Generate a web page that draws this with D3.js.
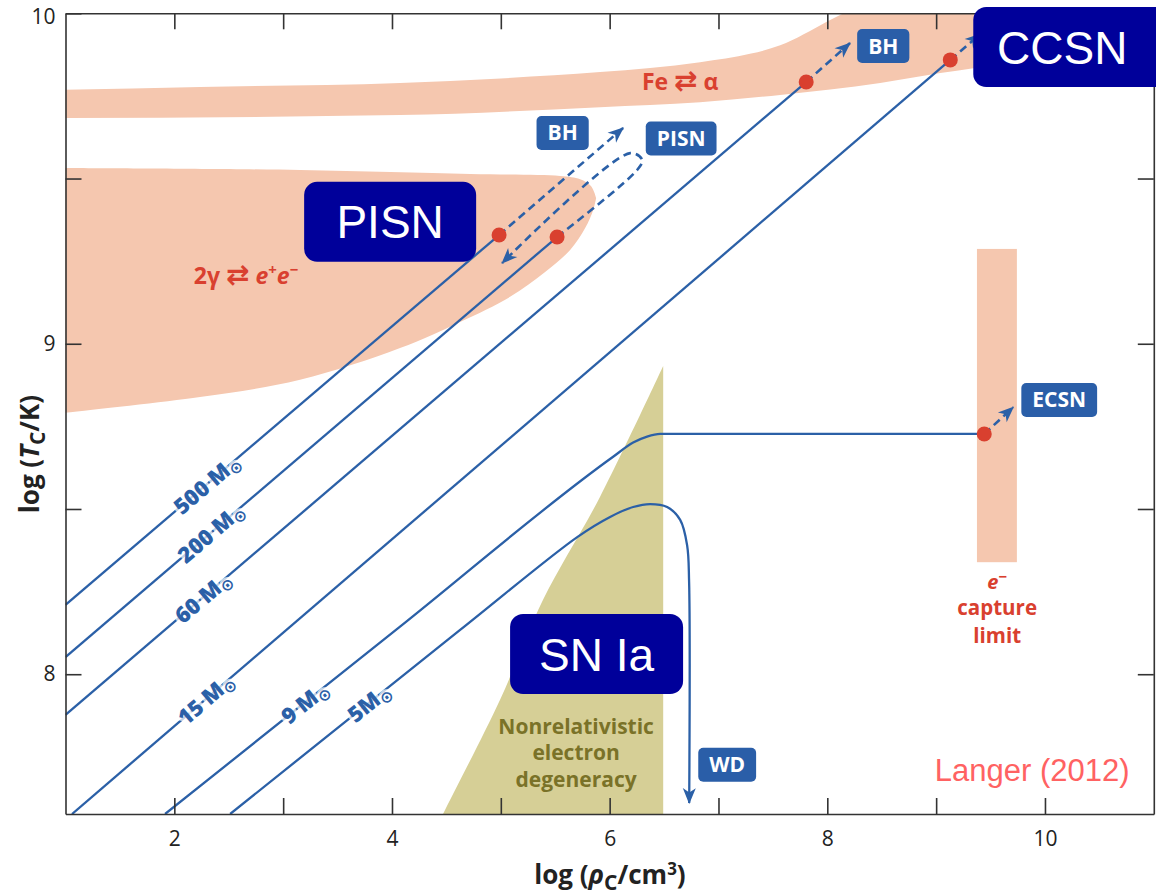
<!DOCTYPE html>
<html>
<head>
<meta charset="utf-8">
<script src="https://cdn.jsdelivr.net/npm/d3@7"></script>
<style>
  body { margin: 0; background: #fff; }
  svg { display: block; }
</style>
</head>
<body>
<svg id="chart" width="1156" height="896"></svg>
<script>
// ---- axes ----
const xDomain = [1, 11];
const yDomain = [7.577, 10];
const xTicks = [2, 3, 4, 5, 6, 7, 8, 9, 10];
const xTickLabels = [2, 4, 6, 8, 10];
const yTicks = [8, 8.5, 9, 9.5, 10];
const yTickLabels = [8, 9, 10];

// ---- shaded regions: [log rho_c, log T_c] ----
const feBandTop = [[0.9, 9.768], [2.236, 9.777], [4.074, 9.789], [5.0, 9.803], [5.912, 9.822], [6.831, 9.852], [7.3, 9.878], [7.567, 9.903], [7.999, 9.975], [8.25, 10.02], [8.8, 10.2]];
const feBandBottom = [[0.9, 9.683], [4.074, 9.692], [5.912, 9.716], [6.831, 9.731], [7.567, 9.753], [8.486, 9.789], [9.038, 9.819], [9.341, 9.834], [10.0, 9.86], [11.2, 9.93]];
const pairBandTop = [[0.9, 9.532], [3.155, 9.526], [4.718, 9.514], [5.545, 9.508], [5.729, 9.498], [5.830, 9.477], [5.876, 9.441]];
const pairBandBottom = [[0.9, 8.788], [2.236, 8.839], [3.155, 8.891], [4.074, 8.987], [4.625, 9.066], [5.085, 9.142], [5.407, 9.217], [5.637, 9.284], [5.775, 9.350], [5.849, 9.405], [5.876, 9.441]];
const captureLimitRho = [9.375, 9.742];
const captureLimitT = [8.339, 9.287];
const degeneracyEdge = [[6.492, 8.933], [5.912, 8.537], [5.388, 8.225], [4.993, 7.923], [4.469, 7.577], [4.40, 7.53]];
const degeneracyRho = 6.492;

// ---- evolutionary tracks of the stellar centre ----
const track500 = [[1.0, 8.210], [4.984, 9.329]];
const track200 = [[1.0, 8.052], [5.517, 9.323]];
const track60 = [[1.0, 7.877], [7.806, 9.792]];
const track15 = [[1.06, 7.577], [9.130, 9.859]];
const track9 = [[1.915, 7.577], [4.074, 8.144], [6.032, 8.658], [6.216, 8.701], [6.344, 8.719], [6.464, 8.727], [7.5, 8.727], [9.442, 8.727]];
const track5 = [[2.513, 7.577], [4.626, 8.134], [5.702, 8.415], [6.004, 8.476], [6.216, 8.506], [6.372, 8.515], [6.528, 8.506], [6.648, 8.467], [6.712, 8.39], [6.730, 8.28], [6.731, 7.61]];

const trackMasses = ["500", "200", "60", "15", "9", "5"];
const trackLabelRho = [2.30, 2.337, 2.264, 2.29, 3.20, 3.79];
const tracks = [track500, track200, track60, track15, track9, track5];

// ---- end points and fates ----
const endPoints = [[4.984, 9.329], [5.517, 9.323], [7.806, 9.792], [9.130, 9.859], [9.442, 8.727]];
const pathBH1 = [[4.984, 9.329], [6.124, 9.653]];
const pathPISN = [[5.517, 9.323], [6.253, 9.526], [6.299, 9.556], [6.189, 9.577], [5.012, 9.244]];
const pathBH2 = [[7.806, 9.792], [8.209, 9.910]];
const pathCCSN = [[9.130, 9.859], [9.405, 9.937]];
const pathECSN = [[9.442, 8.727], [9.709, 8.808]];
const dashedPaths = [pathBH1, pathPISN, pathBH2, pathCCSN, pathECSN];

const fateNames = ["BH", "PISN", "BH", "ECSN", "WD"];
const fateRho = [5.568, 6.657, 8.514, 10.131, 7.080];
const fateT = [9.638, 9.621, 9.901, 8.830, 7.726];

const snNames = ["PISN", "CCSN", "SN Ia"];
const snRho = [3.983, 10.159, 5.880];
const snT = [9.369, 9.898, 8.061];
const snBoxWidth = [172, 178, 173];
const snBoxExtraRight = [0, 30, 0];

// ---- colours ----
const blue = "#2b60a7";
const red = "#d9402f";
const pink = "#f5c7af";
const olive = "#d6cf96";
const oliveText = "#7a7228";
const navy = "#00009a";
const axisColor = "#333";
const sansBold = "'Open Sans', 'Noto Sans', sans-serif";
const arial = "'Liberation Sans', Arial, sans-serif";

const svg = d3.select("#chart");
const x = d3.scaleLinear().domain(xDomain).range([65.5, 1153.8]);
const y = d3.scaleLinear().domain(yDomain).range([814, 13.3]);
const [x0, x1] = x.range();
const [yb, yt] = y.range();

const defs = svg.append("defs");
defs.append("clipPath").attr("id", "plot-clip")
  .append("rect").attr("x", x0).attr("y", yt).attr("width", x1 - x0).attr("height", yb - yt);
defs.append("marker")
  .attr("id", "arrow").attr("viewBox", "-17 -8 18 16")
  .attr("refX", 0).attr("refY", 0)
  .attr("markerWidth", 18).attr("markerHeight", 16)
  .attr("markerUnits", "userSpaceOnUse").attr("orient", "auto")
  .append("path").attr("d", "M1,0 L-15,-6.5 L-10.5,0 L-15,6.5 Z").attr("fill", blue);

const smooth = d3.line().x(d => x(d[0])).y(d => y(d[1])).curve(d3.curveCatmullRom.alpha(0.5));
const mono = d3.line().x(d => x(d[0])).y(d => y(d[1])).curve(d3.curveMonotoneX);

const plot = svg.append("g").attr("clip-path", "url(#plot-clip)");

// shaded regions
plot.append("path")
  .attr("d", mono(feBandTop) + "L" + mono(feBandBottom.slice().reverse()).slice(1) + "Z")
  .attr("fill", pink);
plot.append("path")
  .attr("d", smooth(pairBandTop) + "L" + smooth(pairBandBottom.slice().reverse()).slice(1) + "Z")
  .attr("fill", pink);
plot.append("rect")
  .attr("x", x(captureLimitRho[0])).attr("width", x(captureLimitRho[1]) - x(captureLimitRho[0]))
  .attr("y", y(captureLimitT[1])).attr("height", y(captureLimitT[0]) - y(captureLimitT[1]))
  .attr("fill", pink);
plot.append("path")
  .attr("d", smooth(degeneracyEdge) + "L" + x(degeneracyRho) + "," + y(7.53) + "Z")
  .attr("fill", olive);

// axes with inward ticks on all four sides
function styleAxis(g) {
  g.select(".domain").attr("stroke", axisColor).attr("stroke-width", 1.6);
  g.selectAll(".tick line").attr("stroke", axisColor).attr("stroke-width", 1.6);
  g.selectAll(".tick text").attr("fill", "#222").attr("font-family", sansBold).attr("font-size", 21);
}
svg.append("g").attr("transform", `translate(0,${yb})`)
  .call(d3.axisBottom(x).tickValues(xTicks).tickSizeInner(-16).tickSizeOuter(0).tickPadding(17)
    .tickFormat(d => xTickLabels.includes(d) ? d : ""))
  .call(styleAxis);
svg.append("g").attr("transform", `translate(0,${yt})`)
  .call(d3.axisTop(x).tickValues(xTicks).tickSizeInner(-16).tickSizeOuter(0).tickFormat(""))
  .call(styleAxis);
const yAxisG = svg.append("g").attr("transform", `translate(${x0},0)`)
  .call(d3.axisLeft(y).tickValues(yTicks).tickSizeInner(-16).tickSizeOuter(0).tickPadding(10)
    .tickFormat(d => yTickLabels.includes(d) ? d : ""))
  .call(styleAxis);
// keep the top label inside the canvas
yAxisG.selectAll(".tick text").filter(d => d === yDomain[1]).attr("dy", "0.5em");
svg.append("g").attr("transform", `translate(${x1},0)`)
  .call(d3.axisRight(y).tickValues(yTicks).tickSizeInner(-16).tickSizeOuter(0).tickFormat(""))
  .call(styleAxis);

// axis titles
const xTitle = svg.append("text")
  .attr("x", 610).attr("y", 884).attr("text-anchor", "middle")
  .attr("font-family", sansBold).attr("font-weight", 700).attr("font-size", 26).attr("fill", "#222");
xTitle.append("tspan").text("log (");
xTitle.append("tspan").attr("font-style", "italic").text("ρ");
xTitle.append("tspan").attr("dy", 6).attr("font-size", 21).text("C");
xTitle.append("tspan").attr("dy", -6).text("/cm");
xTitle.append("tspan").attr("dy", -9).attr("font-size", 17).text("3");
xTitle.append("tspan").attr("dy", 9).text(")");

const yTitle = svg.append("text")
  .attr("transform", "translate(39,454) rotate(-90)").attr("text-anchor", "middle")
  .attr("font-family", sansBold).attr("font-weight", 700).attr("font-size", 26).attr("fill", "#222");
yTitle.append("tspan").text("log (");
yTitle.append("tspan").attr("font-style", "italic").text("T");
yTitle.append("tspan").attr("dy", 6).attr("font-size", 21).text("C");
yTitle.append("tspan").attr("dy", -6).text("/K)");

// tracks
const tracksG = plot.append("g").attr("fill", "none").attr("stroke", blue).attr("stroke-width", 2.3);
tracks.forEach(t => {
  const gen = (t === track9) ? mono : smooth;
  const p = tracksG.append("path").attr("d", gen(t));
  if (t === track5) p.attr("marker-end", "url(#arrow)");
});

// mass labels along the tracks
function pointAt(track, xv) {
  for (let i = 0; i < track.length - 1; i++) {
    const a = track[i], b = track[i + 1];
    if (xv >= a[0] && xv <= b[0]) {
      const t = (xv - a[0]) / (b[0] - a[0]);
      return { p: [xv, a[1] + t * (b[1] - a[1])], a, b };
    }
  }
  return null;
}
tracks.forEach((t, i) => {
  const { p, a, b } = pointAt(t, trackLabelRho[i]);
  const ang = Math.atan2(y(b[1]) - y(a[1]), x(b[0]) - x(a[0])) * 180 / Math.PI;
  const txt = svg.append("text")
    .attr("transform", `translate(${x(p[0])},${y(p[1])}) rotate(${ang})`)
    .attr("text-anchor", "middle").attr("dy", "0.36em")
    .attr("font-family", sansBold).attr("font-weight", 800).attr("font-size", 22)
    .attr("fill", blue)
    .attr("stroke", "#fff").attr("stroke-opacity", 0.72).attr("stroke-width", 6)
    .attr("stroke-linejoin", "round").attr("paint-order", "stroke");
  txt.append("tspan").text(trackMasses[i] + (trackMasses[i] === "5" ? "M" : " M"));
  txt.append("tspan").attr("dy", 4).attr("font-size", 16).attr("font-weight", 700)
    .attr("font-family", "'DejaVu Sans', sans-serif").text("⊙");
});

// dashed continuations to the final fates
const dashG = svg.append("g").attr("fill", "none").attr("stroke", blue)
  .attr("stroke-width", 2.6).attr("stroke-dasharray", "8,5");
dashedPaths.forEach(pth => {
  dashG.append("path").attr("d", smooth(pth)).attr("marker-end", "url(#arrow)");
});

// end points
svg.append("g").selectAll("circle").data(endPoints).join("circle")
  .attr("cx", d => x(d[0])).attr("cy", d => y(d[1])).attr("r", 7.5).attr("fill", red);

// fate boxes
fateNames.forEach((name, i) => {
  const g = svg.append("g").attr("transform", `translate(${x(fateRho[i])},${y(fateT[i])})`);
  const r = g.append("rect").attr("fill", "#2a5ea8").attr("rx", 5);
  const t = g.append("text").attr("text-anchor", "middle").attr("dy", "0.36em")
    .attr("font-family", sansBold).attr("font-weight", 700).attr("font-size", 21)
    .attr("fill", "#fff").text(name);
  const w = t.node().getComputedTextLength() + 22;
  r.attr("x", -w / 2).attr("y", -17).attr("width", w).attr("height", 34);
});

// reaction and region labels
function reaction(g, parts) {
  parts.forEach(pt => {
    const s = g.append("tspan").text(pt.t);
    if (pt.italic) s.attr("font-style", "italic");
    if (pt.dy) s.attr("dy", pt.dy);
    if (pt.size) s.attr("font-size", pt.size);
    if (pt.font) s.attr("font-family", pt.font);
  });
}
const fe = svg.append("text").attr("x", x(6.648)).attr("y", y(9.792)).attr("dy", "0.36em")
  .attr("text-anchor", "middle").attr("font-family", sansBold).attr("font-weight", 700)
  .attr("font-size", 23).attr("fill", red);
reaction(fe, [{ t: "Fe " }, { t: "⇄", font: "'DejaVu Sans', sans-serif", size: 28 }, { t: " α" }]);

const pair = svg.append("text").attr("x", x(2.659)).attr("y", y(9.205)).attr("dy", "0.36em")
  .attr("text-anchor", "middle").attr("font-family", sansBold).attr("font-weight", 700)
  .attr("font-size", 23).attr("fill", red);
reaction(pair, [{ t: "2γ " }, { t: "⇄", font: "'DejaVu Sans', sans-serif", size: 28 }, { t: " " },
  { t: "e", italic: true }, { t: "+", size: 15, dy: -9 }, { t: "e", italic: true, dy: 9 }, { t: "−", size: 15, dy: -9 }]);

// electron-capture label, one text element per line
const captureLines = ["capture", "limit"];
const captureLineT = [8.202, 8.118];
const capRho = 9.561;
const capTop = svg.append("text").attr("x", x(capRho)).attr("y", y(8.281)).attr("dy", "0.36em")
  .attr("text-anchor", "middle").attr("font-family", sansBold).attr("font-weight", 700)
  .attr("font-size", 20).attr("fill", red);
capTop.append("tspan").attr("font-style", "italic").text("e");
capTop.append("tspan").attr("font-size", 15).attr("dy", -7).text("−");
captureLines.forEach((s, i) => {
  svg.append("text").attr("x", x(capRho)).attr("y", y(captureLineT[i])).attr("dy", "0.36em")
    .attr("text-anchor", "middle").attr("font-family", sansBold).attr("font-weight", 700)
    .attr("font-size", 20.5).attr("fill", red).text(s);
});

const degLines = ["Nonrelativistic", "electron", "degeneracy"];
const degLineT = [7.843, 7.762, 7.683];
degLines.forEach((s, i) => {
  svg.append("text").attr("x", x(5.692)).attr("y", y(degLineT[i])).attr("dy", "0.36em")
    .attr("text-anchor", "middle").attr("font-family", sansBold).attr("font-weight", 700)
    .attr("font-size", 21).attr("fill", oliveText).text(s);
});

svg.append("text").attr("x", x(9.883)).attr("y", y(7.710)).attr("dy", "0.36em")
  .attr("text-anchor", "middle").attr("font-family", arial).attr("font-size", 31)
  .attr("fill", "#ff6262").text("Langer (2012)");

// supernova type boxes
snNames.forEach((name, i) => {
  const cx = x(snRho[i]), cy = y(snT[i]), w = snBoxWidth[i];
  svg.append("rect").attr("x", cx - w / 2).attr("y", cy - 40)
    .attr("width", w + snBoxExtraRight[i]).attr("height", 80).attr("rx", 13).attr("fill", navy);
  svg.append("text").attr("x", cx).attr("y", cy).attr("dy", "0.36em").attr("text-anchor", "middle")
    .attr("font-family", arial).attr("font-size", 46).attr("fill", "#fff").text(name);
});
</script>
</body>
</html>
